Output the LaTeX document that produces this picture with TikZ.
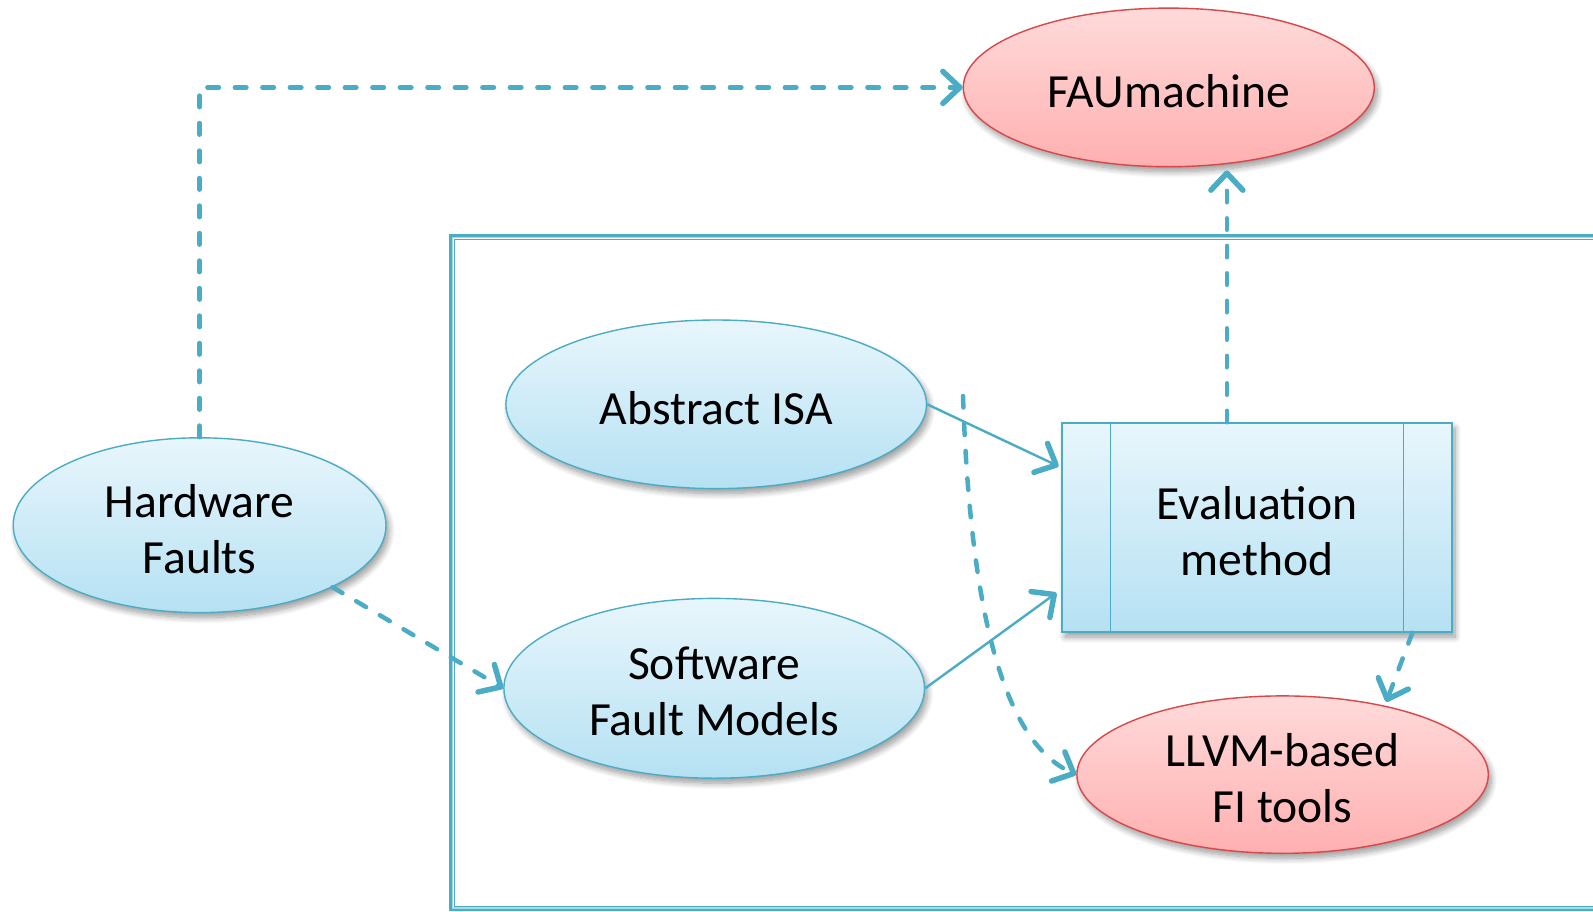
\documentclass[tikz,border=0pt]{standalone}
\usepackage{fontspec}
\setmainfont{Carlito}
\usetikzlibrary{shapes.geometric,arrows.meta,calc,shadows.blur}

\definecolor{linkc}{HTML}{4BACC6}
\definecolor{linklight}{HTML}{A9D8E5}
\definecolor{bluetop}{HTML}{E8F6FC}
\definecolor{bluebot}{HTML}{B5E1F3}
\definecolor{redtop}{HTML}{FFDADA}
\definecolor{redbot}{HTML}{FFB0B0}
\definecolor{redline}{HTML}{D8474A}

\begin{document}
\begin{tikzpicture}[x=1pt,y=-1pt,
  every node/.style={font=\fontsize{47.6}{56}\selectfont, align=center, text=black},
  softshadow/.style={blur shadow={shadow xshift=3pt, shadow yshift=-5pt,
      shadow blur radius=6pt, shadow blur steps=10, shadow opacity=40}},
  caption/.style={label={[yshift=-3.5pt]center:{#1}}},
  blueell/.style={ellipse, draw=linkc, line width=1.4pt, inner sep=0pt,
      top color=bluetop, bottom color=bluebot, softshadow},
  redell/.style={ellipse, draw=redline, line width=1.4pt, inner sep=0pt,
      top color=redtop, bottom color=redbot, softshadow},
  methodbox/.style={rectangle, draw=linkc, line width=1.4pt, inner sep=0pt,
      top color=bluetop, bottom color=bluebot, softshadow},
  dashlink/.style={draw=linkc, line width=4.5pt, line cap=round,
      dash pattern=on 11.5pt off 16pt,
      -{Straight Barb[length=17pt,width=32pt,line width=5.5pt,round]}},
  solidlink/.style={draw=linkc, line width=2.4pt,
      -{Straight Barb[length=17pt,width=32pt,line width=5.5pt,round]}},
]
\useasboundingbox (0,0) rectangle (1593,911);
\clip (0,0) rectangle (1593,911);

% enclosing double frame
\draw[linkc, line width=3.2pt] (450.3,235.8) rectangle (1650,909.6);
\draw[linklight, line width=1.6pt] (452.4,237.6) rectangle (1650,907.8);
\draw[linkc, line width=1.2pt] (454.2,239.4) rectangle (1650,906.3);

% nodes
\node[redell, minimum width=411pt, minimum height=158.6pt,
      caption={FAUmachine}] (fau) at (1168.8,87.4) {};
\node[blueell, minimum width=372.8pt, minimum height=174.8pt,
      caption={Hardware\\Faults}] (hw) at (199.6,525.2) {};
\node[blueell, minimum width=420.6pt, minimum height=168.6pt,
      caption={Abstract ISA}] (ai) at (716.2,404.3) {};
\node[blueell, minimum width=420.6pt, minimum height=179.8pt,
      caption={Software\\Fault Models}] (sw) at (714.2,688.3) {};
\node[methodbox, minimum width=390pt, minimum height=209pt,
      caption={Evaluation\\method}] (ev) at (1257,527.5) {};
\draw[linkc, line width=1.4pt] ($(ev.north west)+(49,0)$) -- ($(ev.south west)+(49,0)$);
\draw[linkc, line width=1.4pt] ($(ev.north east)+(-49,0)$) -- ($(ev.south east)+(-49,0)$);
\node[redell, minimum width=411.4pt, minimum height=157.4pt,
      caption={LLVM-based\\FI tools}] (llvm) at (1282.6,774.6) {};

% connection points on the method box
\coordinate (evin1) at ($(ev.north west)!0.215!(ev.south west)$);
\coordinate (evin2) at ($(ev.north west)!0.794!(ev.south west)$);
\coordinate (evtop) at ($(ev.north west)!0.423!(ev.north east)$);
\coordinate (evbot) at ($(ev.south west)!0.897!(ev.south east)$);
\coordinate (cstart) at (963,396);

% connectors
\draw[dashlink] (hw.north) |- (fau.west);
\draw[dashlink] (hw.-25) -- (sw.west);
\draw[solidlink, shorten >=3pt] (ai.east) -- (evin1);
\draw[solidlink, shorten >=6pt] (sw.east) -- (evin2);
\draw[dashlink, shorten >=3pt] (evtop) -- (evtop |- fau.south);
\draw[dashlink, shorten >=4pt] (evbot) -- (llvm.34);
\draw[dashlink] (cstart) .. controls (970,600) and (1000,740) .. (llvm.west);
\end{tikzpicture}
\end{document}
